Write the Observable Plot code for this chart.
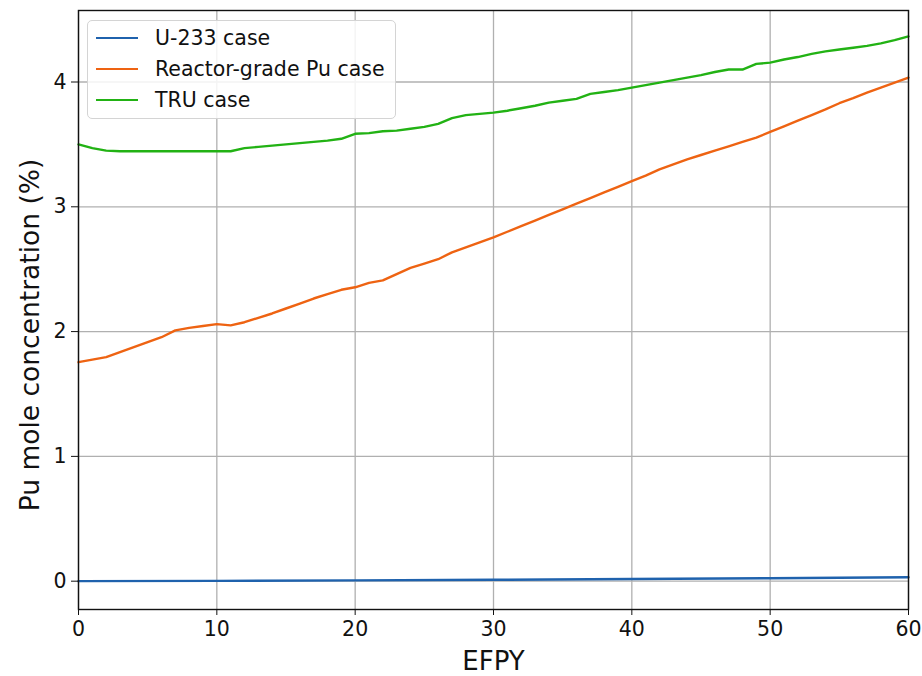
<!DOCTYPE html>
<html>
<head>
<meta charset="utf-8">
<script src="https://cdn.jsdelivr.net/npm/d3@7"></script>
<script src="https://cdn.jsdelivr.net/npm/@observablehq/plot@0.6"></script>
<style>
  html, body { margin: 0; padding: 0; background: white; }
  #wrap { position: relative; width: 922px; height: 676px; font-family: "DejaVu Sans", sans-serif; }
  #wrap svg [aria-label="x-axis label"] text { font-size: 26px; }
  #legend { position: absolute; left: 87px; top: 20px; width: 309px; height: 99px;
    border: 1px solid #d4d4d4; border-radius: 5px; background: rgba(255,255,255,0.85); box-sizing: border-box; }
  .item { position: absolute; left: 0; height: 24px; display: flex; align-items: center; font-size: 20.5px; color: #111; }
  .item .sw { width: 42px; height: 0; border-top: 2.5px solid; margin-left: 8px; margin-right: 17px; }
</style>
</head>
<body>
<div id="wrap"></div>
<script>
// EFPY grid (years)
const efpy = [0,1,2,3,4,5,6,7,8,9,10,11,12,13,14,15,16,17,18,19,20,21,22,23,24,25,26,27,28,29,30,31,32,33,34,35,36,37,38,39,40,41,42,43,44,45,46,47,48,49,50,51,52,53,54,55,56,57,58,59,60];

// Pu mole concentration (%) per case
const tru = [3.50,3.47,3.45,3.445,3.445,3.445,3.445,3.445,3.445,3.445,3.445,3.445,3.47,3.48,3.49,3.50,3.51,3.52,3.53,3.545,3.585,3.59,3.605,3.61,3.625,3.64,3.665,3.71,3.735,3.745,3.755,3.77,3.79,3.81,3.835,3.85,3.865,3.905,3.92,3.935,3.955,3.975,3.995,4.015,4.035,4.055,4.08,4.10,4.10,4.145,4.155,4.18,4.20,4.225,4.245,4.26,4.275,4.29,4.31,4.335,4.365];
const rgpu = [1.755,1.775,1.795,1.835,1.875,1.915,1.955,2.01,2.03,2.045,2.06,2.05,2.075,2.11,2.145,2.185,2.225,2.265,2.30,2.335,2.355,2.39,2.41,2.46,2.51,2.545,2.58,2.635,2.675,2.715,2.755,2.80,2.845,2.89,2.935,2.98,3.025,3.07,3.115,3.16,3.205,3.25,3.30,3.34,3.38,3.415,3.45,3.485,3.52,3.555,3.60,3.645,3.69,3.735,3.78,3.83,3.87,3.915,3.955,3.995,4.035];
const u233Years = [0,10,20,30,40,50,60];
const u233 = [0.0,0.002,0.006,0.011,0.017,0.024,0.032];

const seriesNames = ["U-233 case","Reactor-grade Pu case","TRU case"];
const seriesColors = ["#1f62ad","#ee6312","#22b214"];

const xTicks = [0,10,20,30,40,50,60];
const yTicks = [0,1,2,3,4];
const yTitle = "Pu mole concentration (%)";

const rows = [];
u233Years.forEach((t,i) => rows.push({t, v: u233[i], s: seriesNames[0]}));
efpy.forEach((t,i) => rows.push({t, v: rgpu[i], s: seriesNames[1]}));
efpy.forEach((t,i) => rows.push({t, v: tru[i], s: seriesNames[2]}));

const chart = Plot.plot({
  width: 922, height: 676,
  marginLeft: 78, marginRight: 14, marginTop: 10, marginBottom: 67,
  style: {fontFamily: "DejaVu Sans, sans-serif", fontSize: "20.5px", background: "white", color: "#111"},
  x: {domain: [0,60]},
  y: {domain: [-0.227, 4.573]},
  color: {domain: seriesNames, range: seriesColors},
  marks: [
    Plot.gridX(xTicks, {stroke: "#b0b0b0", strokeOpacity: 1, strokeWidth: 1.3}),
    Plot.gridY(yTicks, {stroke: "#b0b0b0", strokeOpacity: 1, strokeWidth: 1.3}),
    Plot.line(rows, {x: "t", y: "v", z: "s", stroke: "s", strokeWidth: 2.4}),
    Plot.frame({stroke: "#111", strokeWidth: 1.4}),
    Plot.axisX(xTicks, {tickSize: 6, tickPadding: 6, tickFormat: d => String(d), label: "EFPY", labelAnchor: "center", labelArrow: "none", labelOffset: 60}),
    Plot.axisY(yTicks, {tickSize: 7, tickPadding: 5, tickFormat: d => String(d), label: null}),
    Plot.text([yTitle], {text: d => d, frameAnchor: "left", textAnchor: "middle", rotate: -90, dx: -48, dy: 25, fontSize: 26.5, fill: "#111"})
  ]
});

const wrap = document.getElementById("wrap");
wrap.appendChild(chart);

const legend = document.createElement("div");
legend.id = "legend";
seriesNames.forEach((name, i) => {
  const it = document.createElement("div");
  it.className = "item";
  it.style.top = (5 + i * 31) + "px";
  const sw = document.createElement("span");
  sw.className = "sw";
  sw.style.borderTopColor = seriesColors[i];
  const tx = document.createElement("span");
  tx.textContent = name;
  it.appendChild(sw); it.appendChild(tx);
  legend.appendChild(it);
});
wrap.appendChild(legend);
</script>
</body>
</html>
